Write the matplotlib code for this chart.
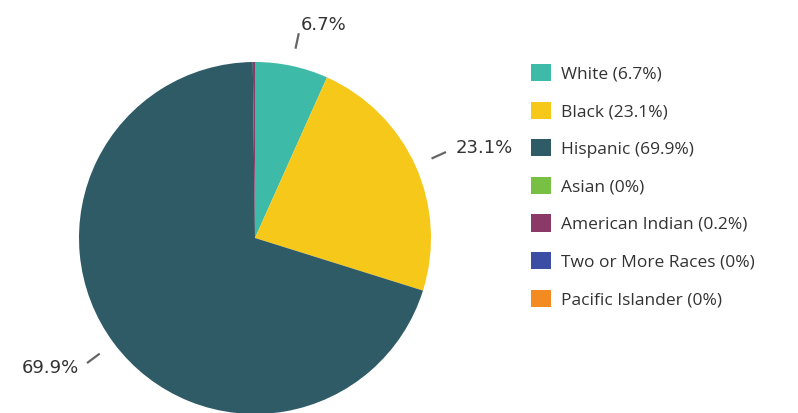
import numpy as np
import matplotlib
matplotlib.use('Agg')
import matplotlib.pyplot as plt
from matplotlib.patches import Patch

# Data
races = ['White', 'Black', 'Hispanic', 'Asian', 'American Indian',
         'Two or More Races', 'Pacific Islander']
shares = [6.7, 23.1, 69.9, 0, 0.2, 0, 0]
colors = ['#3dbaa8', '#f6c819', '#2e5b66', '#78c043', '#8b3a68',
          '#3b4ea3', '#f38b22']
legend_labels = ['White (6.7%)', 'Black (23.1%)', 'Hispanic (69.9%)',
                 'Asian (0%)', 'American Indian (0.2%)',
                 'Two or More Races (0%)', 'Pacific Islander (0%)']

plt.rcParams['font.family'] = ['Open Sans', 'DejaVu Sans']
text_color = '#333333'

W, H = 798, 413
fig = plt.figure(figsize=(W / 100, H / 100), dpi=100)

# pie centre at (255, 238) px, radius 176 px
cx, cy, r = 255, 238, 176
ax = fig.add_axes([(cx - r) / W, (H - cy - r) / H, 2 * r / W, 2 * r / H])

wedges, _ = ax.pie(shares, colors=colors, startangle=90, counterclock=False,
                   radius=1, wedgeprops=dict(linewidth=0))
for w in wedges:
    w.set_clip_on(False)
ax.set_xlim(-1, 1)
ax.set_ylim(-1, 1)
ax.set_aspect('equal')
ax.axis('off')

# outside labels with short connector lines, only for big slices
total = sum(shares)
start = 0.0
for val in shares:
    if val >= 1:
        mid = np.radians((start + val / 2) / total * 360)
        sx, sy = np.sin(mid), np.cos(mid)
        ax.plot([1.10 * sx, 1.19 * sx], [1.10 * sy, 1.19 * sy],
                color='#666666', lw=1.6, clip_on=False, solid_capstyle='butt')
        ha = 'left' if sx >= 0 else 'right'
        ax.text(1.25 * sx, 1.24 * sy, f'{val}%', ha=ha, va='center',
                fontsize=13, family='DejaVu Sans', color=text_color,
                clip_on=False)
    start += val

handles = [Patch(facecolor=c, edgecolor='none') for c in colors]
fig.legend(handles, legend_labels, loc='upper left',
           bbox_to_anchor=(531 / W, 1 - 64 / H), frameon=False,
           fontsize=12.5, handlelength=1.15, handleheight=1.15,
           handletextpad=0.55, labelspacing=1.1, borderpad=0,
           borderaxespad=0, labelcolor=text_color)

fig.savefig('out.png', dpi=100)
